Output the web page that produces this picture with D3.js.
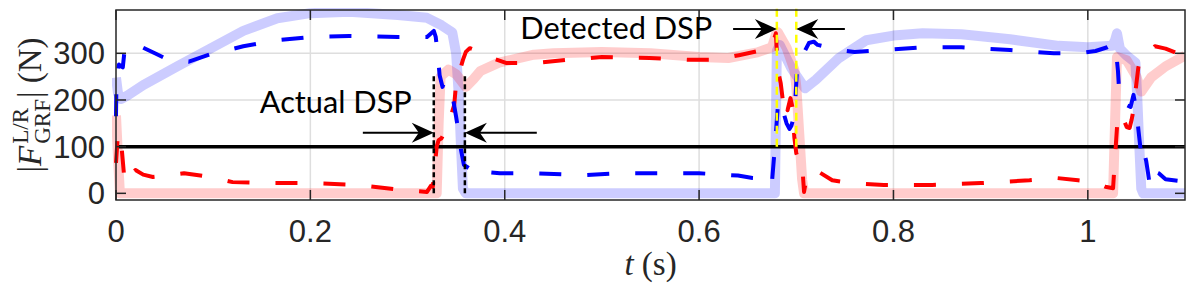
<!DOCTYPE html>
<html>
<head>
<meta charset="utf-8">
<script src="https://cdn.jsdelivr.net/npm/d3@7"></script>
<style>
body { margin: 0; background: #fff; }
svg { display: block; font-family: "Liberation Sans", Arial, sans-serif; }
</style>
</head>
<body>
<svg id="chart"></svg>
<script>
// Ground reaction force, reference (thick, faded) and estimate (dashed) per foot: [t (s), |F| (N)]
const blueRef = [[0,248],[0.002,215],[0.005,202],[0.012,210],[0.028,232],[0.063,272],[0.097,310],[0.131,348],[0.166,375],[0.2,386],[0.24,389],[0.29,382],[0.32,376],[0.335,360],[0.346,345],[0.350,300],[0.353,200],[0.355,100],[0.357,10],[0.360,0],[0.678,0],[0.679,150],[0.680,305],[0.683,318],[0.695,268],[0.709,225],[0.72,243],[0.744,290],[0.772,328],[0.80,338],[0.83,343],[0.87,341],[0.92,330],[0.97,316],[1.00,313],[1.025,316],[1.028,328],[1.030,343],[1.033,310],[1.04,295],[1.049,280],[1.051,200],[1.053,100],[1.055,10],[1.057,0],[1.1,0]];

const redRef = [[0,167],[0.002,80],[0.004,0],[0.330,0],[0.332,150],[0.334,250],[0.342,265],[0.350,255],[0.36,228],[0.368,245],[0.375,262],[0.394,280],[0.43,297],[0.45,300],[0.5,303],[0.55,300],[0.6,292],[0.63,290],[0.66,302],[0.675,313],[0.679,340],[0.681,345],[0.690,312],[0.698,265],[0.700,230],[0.703,130],[0.706,30],[0.708,0],[1.026,0],[1.028,150],[1.030,292],[1.04,285],[1.05,250],[1.055,218],[1.065,248],[1.08,272],[1.1,295]];

const blueEst = [[0,165],[0.0005,245],[0.003,276],[0.007,270],[0.009,310],[0.013,318],[0.025,315],[0.04,300],[0.055,285],[0.075,282],[0.097,298],[0.131,315],[0.166,328],[0.2,335],[0.24,337],[0.29,335],[0.32,335],[0.327,348],[0.329,335],[0.331,300],[0.333,253],[0.336,228],[0.338,240],[0.340,220],[0.347,200],[0.350,164],[0.353,124],[0.355,93],[0.358,61],[0.363,54],[0.366,61],[0.371,54],[0.38,46],[0.395,43],[0.43,43],[0.48,39],[0.52,43],[0.6,43],[0.64,38],[0.655,33],[0.662,32],[0.665,26],[0.668,33],[0.672,28],[0.675,24],[0.678,100],[0.681,185],[0.683,175],[0.684,190],[0.687,172],[0.690,150],[0.693,138],[0.695,145],[0.698,167],[0.699,200],[0.701,275],[0.703,281],[0.713,322],[0.718,325],[0.722,318],[0.73,314],[0.74,308],[0.76,303],[0.788,307],[0.83,313],[0.87,313],[0.92,307],[0.965,300],[0.99,300],[1.008,305],[1.02,313],[1.027,321],[1.029,305],[1.031,263],[1.032,228],[1.034,195],[1.044,185],[1.047,211],[1.050,178],[1.052,137],[1.054,100],[1.055,78],[1.057,95],[1.06,70],[1.062,43],[1.064,14],[1.066,35],[1.070,46],[1.073,43],[1.08,30],[1.1,25]];

const redEst = [[0,65],[0.002,129],[0.006,93],[0.009,22],[0.02,50],[0.028,40],[0.038,35],[0.055,39],[0.07,43],[0.097,35],[0.12,24],[0.155,22],[0.2,22],[0.25,18],[0.29,8],[0.32,3],[0.324,16],[0.326,14],[0.328,57],[0.330,100],[0.332,114],[0.335,118],[0.338,131],[0.341,142],[0.348,189],[0.350,236],[0.352,250],[0.357,286],[0.360,303],[0.364,311],[0.368,308],[0.387,290],[0.402,279],[0.43,279],[0.463,286],[0.5,292],[0.549,290],[0.59,286],[0.617,286],[0.641,296],[0.665,307],[0.675,315],[0.679,343],[0.681,264],[0.684,236],[0.687,185],[0.689,200],[0.691,178],[0.694,204],[0.696,185],[0.698,120],[0.700,86],[0.702,75],[0.703,78],[0.706,64],[0.708,3],[0.710,28],[0.714,46],[0.72,50],[0.737,28],[0.755,22],[0.79,18],[0.84,18],[0.89,22],[0.94,28],[0.967,33],[0.99,28],[1.008,24],[1.018,14],[1.026,11],[1.028,78],[1.031,171],[1.035,167],[1.040,142],[1.043,140],[1.045,157],[1.047,178],[1.049,218],[1.052,270],[1.054,287],[1.066,307],[1.069,315],[1.08,310],[1.095,298],[1.1,295]];

const threshold = 100;
const actualDSP = [0.327, 0.359];
const detectedDSP = [0.680, 0.700];
const xTicks = [0, 0.2, 0.4, 0.6, 0.8, 1];
const xTickLabels = ['0', '0.2', '0.4', '0.6', '0.8', '1'];
const yTicks = [0, 100, 200, 300];

const W = 1196, H = 296;
const margin = {top: 10, right: 11, bottom: 96, left: 116};
const width = W - margin.left - margin.right;
const height = H - margin.top - margin.bottom;
const axisColor = '#262626';

const svg = d3.select('#chart').attr('width', W).attr('height', H);

const x = d3.scaleLinear().domain([0, 1.1]).range([0, width]);
const y = d3.scaleLinear().domain([-14.3, 392.8]).range([height, 0]);

svg.append('defs').append('clipPath').attr('id', 'plot-clip')
    .append('rect').attr('x', -4).attr('y', -2).attr('width', width + 4).attr('height', height + 4);

const g = svg.append('g').attr('transform', `translate(${margin.left},${margin.top})`);

// grid
g.append('g').selectAll('line').data(xTicks.slice(1)).join('line')
    .attr('x1', d => x(d)).attr('x2', d => x(d)).attr('y1', 0).attr('y2', height)
    .attr('stroke', '#dedede').attr('stroke-width', 1.5);
g.append('g').selectAll('line').data(yTicks.slice(1)).join('line')
    .attr('x1', 0).attr('x2', width).attr('y1', d => y(d)).attr('y2', d => y(d))
    .attr('stroke', '#dedede').attr('stroke-width', 1.5);

const line = d3.line().x(d => x(d[0])).y(d => y(d[1]));
const plot = g.append('g').attr('clip-path', 'url(#plot-clip)');

// faded reference forces
plot.append('path').datum(blueRef).attr('d', line)
    .attr('fill', 'none').attr('stroke', '#0000ff').attr('stroke-opacity', 0.2)
    .attr('stroke-width', 10).attr('stroke-linejoin', 'round');
plot.append('path').datum(redRef).attr('d', line)
    .attr('fill', 'none').attr('stroke', '#ff0000').attr('stroke-opacity', 0.2)
    .attr('stroke-width', 10).attr('stroke-linejoin', 'round');

// threshold
plot.append('line').attr('x1', 0).attr('x2', width)
    .attr('y1', y(threshold)).attr('y2', y(threshold))
    .attr('stroke', '#000').attr('stroke-width', 3.5);

// estimated forces
plot.append('path').datum(redEst).attr('d', line)
    .attr('fill', 'none').attr('stroke', '#ff0000').attr('stroke-width', 4)
    .attr('stroke-dasharray', '22,26').attr('stroke-linejoin', 'round');
plot.append('path').datum(blueEst).attr('d', line)
    .attr('fill', 'none').attr('stroke', '#0000ff').attr('stroke-width', 4)
    .attr('stroke-dasharray', '22,26').attr('stroke-linejoin', 'round');

// DSP markers
g.selectAll('.actual-dsp').data(actualDSP).join('line')
    .attr('class', 'actual-dsp')
    .attr('x1', d => x(d)).attr('x2', d => x(d)).attr('y1', y(0)).attr('y2', y(252))
    .attr('stroke', '#000').attr('stroke-width', 2.5).attr('stroke-dasharray', '5,3');
g.selectAll('.detected-dsp').data(detectedDSP).join('line')
    .attr('class', 'detected-dsp')
    .attr('x1', d => x(d)).attr('x2', d => x(d)).attr('y1', y(threshold)).attr('y2', y(400))
    .attr('stroke', '#ffff00').attr('stroke-width', 2.5).attr('stroke-dasharray', '8,5');

// frame
g.append('rect').attr('width', width).attr('height', height)
    .attr('fill', 'none').attr('stroke', axisColor).attr('stroke-width', 1.5);

// ticks, inside on all four sides
const tl = 10;
const tk = g.append('g').attr('stroke', axisColor).attr('stroke-width', 1.5);
xTicks.forEach(d => {
    tk.append('line').attr('x1', x(d)).attr('x2', x(d)).attr('y1', height).attr('y2', height - tl);
    tk.append('line').attr('x1', x(d)).attr('x2', x(d)).attr('y1', 0).attr('y2', tl);
});
yTicks.forEach(d => {
    tk.append('line').attr('x1', 0).attr('x2', tl).attr('y1', y(d)).attr('y2', y(d));
    tk.append('line').attr('x1', width).attr('x2', width - tl).attr('y1', y(d)).attr('y2', y(d));
});

// tick labels
g.append('g').selectAll('text').data(xTicks).join('text')
    .attr('x', d => x(d)).attr('y', height + 42)
    .attr('text-anchor', 'middle').attr('font-size', 31).attr('fill', axisColor)
    .text((d, i) => xTickLabels[i]);
g.append('g').selectAll('text').data(yTicks).join('text')
    .attr('x', -11).attr('y', d => y(d)).attr('dy', '0.36em')
    .attr('text-anchor', 'end').attr('font-size', 31).attr('fill', axisColor)
    .text(d => d);

// axis labels
const xl = svg.append('text')
    .attr('x', margin.left + width / 2).attr('y', 275)
    .attr('text-anchor', 'middle').attr('font-family', '"Liberation Serif", "DejaVu Serif", serif')
    .attr('font-size', 33).attr('fill', axisColor);
xl.append('tspan').attr('font-style', 'italic').text('t');
xl.append('tspan').text(' (s)');

const yl = svg.append('text')
    .attr('transform', `translate(41,${margin.top + height / 2}) rotate(-90)`)
    .attr('font-family', '"Liberation Serif", serif')
    .attr('font-size', 33).attr('fill', axisColor);
yl.append('tspan').text('|');
yl.append('tspan').attr('font-style', 'italic').text('F');
const sup = yl.append('tspan').attr('font-size', 23).attr('dx', 2).attr('dy', -13).text('L/R');
const supLen = sup.node().getComputedTextLength();
yl.append('tspan').attr('font-size', 23).attr('dx', -supLen).attr('dy', 22).text('GRF');
yl.append('tspan').attr('dx', 1).attr('dy', -9).text('| (N)');
const yb = yl.node().getBBox();
yl.attr('x', -yb.width / 2 - yb.x);

// annotations
function arrow(x1, x2, yv) {
    const dir = Math.sign(x2 - x1);
    const xa = x(x1), xb = x(x2), yy = y(yv);
    g.append('line').attr('x1', xa).attr('x2', xb - dir * 10).attr('y1', yy).attr('y2', yy)
        .attr('stroke', '#000').attr('stroke-width', 2);
    const len = 22, half = 10, notch = 15;
    g.append('path')
        .attr('d', `M${xb},${yy} L${xb - dir * len},${yy - half} L${xb - dir * notch},${yy} L${xb - dir * len},${yy + half} Z`)
        .attr('fill', '#000');
}
arrow(0.254, actualDSP[0], 130);
arrow(0.433, actualDSP[1], 130);
arrow(0.635, detectedDSP[0], 352);
arrow(0.750, detectedDSP[1], 352);

g.append('text').attr('x', x(0.148)).attr('y', y(172))
    .attr('font-family', 'Lato, "Open Sans", sans-serif').attr('font-size', 30).attr('fill', '#000')
    .attr('textLength', 152).attr('lengthAdjust', 'spacingAndGlyphs')
    .text('Actual DSP');
g.append('text').attr('x', x(0.416)).attr('y', y(331))
    .attr('font-family', 'Lato, "Open Sans", sans-serif').attr('font-size', 30).attr('fill', '#000')
    .attr('textLength', 192).attr('lengthAdjust', 'spacingAndGlyphs')
    .text('Detected DSP');
</script>
</body>
</html>
